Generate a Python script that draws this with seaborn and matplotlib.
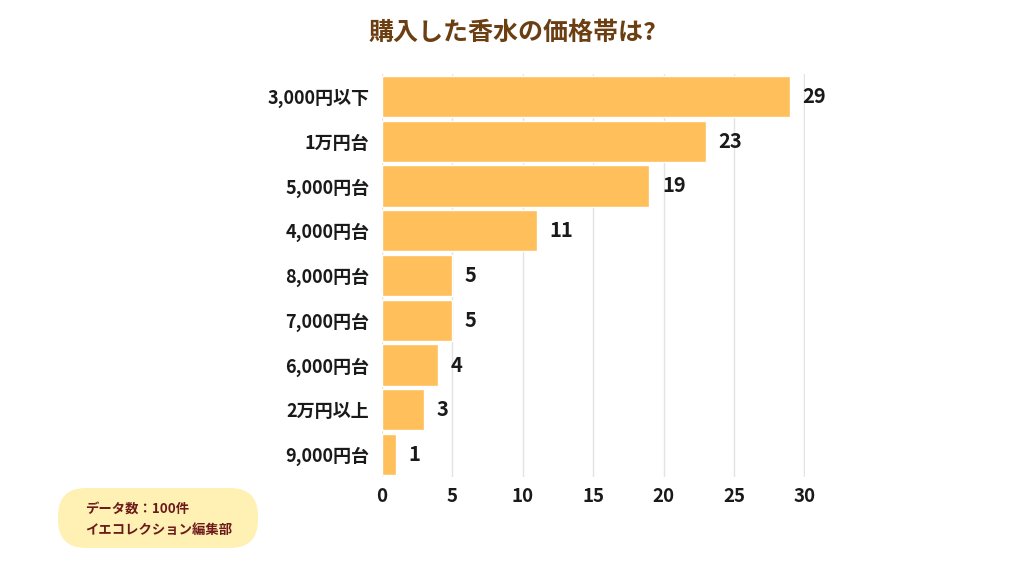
import pandas as pd
import matplotlib
matplotlib.use("Agg")
import matplotlib.pyplot as plt
import seaborn as sns
from matplotlib.patches import FancyBboxPatch

# data
categories = ["3,000円以下", "1万円台", "5,000円台", "4,000円台", "8,000円台",
              "7,000円台", "6,000円台", "2万円以上", "9,000円台"]
counts = [29, 23, 19, 11, 5, 5, 4, 3, 1]
x_ticks = [0, 5, 10, 15, 20, 25, 30]

title = "購入した香水の価格帯は?"
note_lines = ["データ数：100件", "イエコレクション編集部"]

sns.set_style("white")
plt.rcParams['font.family'] = ['Noto Sans CJK JP', 'DejaVu Sans']

df = pd.DataFrame({"category": categories, "count": counts})

fig = plt.figure(figsize=(10.24, 5.76), dpi=100)
ax = fig.add_axes([382 / 1024, 1 - 477 / 576, (805 - 382) / 1024, (477 - 74) / 576])

sns.barplot(data=df, y="category", x="count", orient="h", color="#FFBF5A",
            saturation=1, width=0.92, ax=ax, zorder=3)

ax.set_xlim(0, 30.05)
ax.set_xticks(x_ticks)
ax.set_xticklabels([str(t) for t in x_ticks])
ax.grid(axis="x", color="#E3E3E3", linewidth=1, zorder=0)
ax.grid(axis="y", visible=False)
for s in ax.spines.values():
    s.set_visible(False)
ax.set_xlabel("")
ax.set_ylabel("")
ax.tick_params(axis="both", length=0)
ax.tick_params(axis="y", pad=9)
ax.tick_params(axis="x", pad=7)
for lab in ax.get_yticklabels():
    lab.set_fontsize(13)
    lab.set_fontweight("bold")
    lab.set_color("#1A1A1A")
for lab in ax.get_xticklabels():
    lab.set_fontsize(13.5)
    lab.set_fontweight("bold")
    lab.set_color("#1A1A1A")

ax.bar_label(ax.containers[0], labels=[str(c) for c in counts], padding=9,
             fontsize=14.5, fontweight="bold", color="#1A1A1A")

fig.text(0.5, 1 - 33 / 576, title, ha="center", va="center",
         fontsize=18, fontweight="bold", color="#6B3F12")

# note box in the lower left
box = FancyBboxPatch((58, 576 - 548), 200, 60,
                     boxstyle="round,pad=0,rounding_size=28",
                     transform=None, facecolor="#FFF0B3", edgecolor="none")
fig.patches.append(box)
fig.text(85 / 1024, 1 - 509 / 576, note_lines[0], ha="left", va="center",
         fontsize=9.6, fontweight="bold", color="#6B1A1A")
fig.text(85 / 1024, 1 - 530 / 576, note_lines[1], ha="left", va="center",
         fontsize=9.6, fontweight="bold", color="#6B1A1A")

fig.savefig("out.png", dpi=100)
